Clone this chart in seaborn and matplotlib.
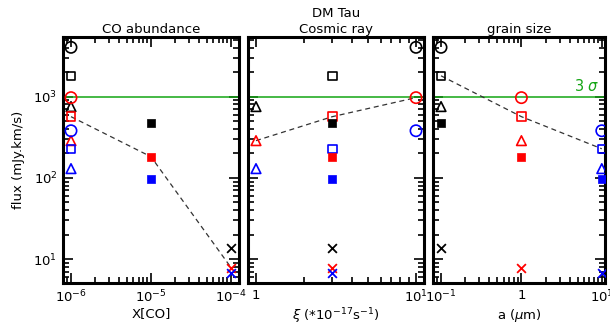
import numpy as np
import pandas as pd
import seaborn as sns
import matplotlib.pyplot as plt
from matplotlib.ticker import FuncFormatter, LogLocator

# model grid: CO abundance, cosmic ray rate, grain size -> integrated flux (mJy.km/s)
co_vals = [1e-6] * 9 + [1e-5] * 3 + [1e-4] * 3
xi_vals = [10, 10, 10, 3, 3, 3, 1, 1, 1, 3, 3, 3, 3, 3, 3]
a_vals = [0.1, 1, 10] * 5
flux_vals = [4030, 970, 380,
             1800, 566, 228,
             753, 287, 130,
             477, 182, 97,
             13.7, 7.9, 6.8]
three_sigma = 1000

grain_colors = {0.1: "black", 1: "red", 10: "blue"}

df = pd.DataFrame({"CO": co_vals, "xi": xi_vals, "a": a_vals, "flux": flux_vals})


def symbol(row):
    if row["CO"] == 1e-5:
        return "s", True
    if row["CO"] == 1e-4:
        return "x", True
    return {10: "o", 3: "s", 1: "^"}[row["xi"]], False


df["marker"] = [symbol(r)[0] for _, r in df.iterrows()]
df["filled"] = [symbol(r)[1] for _, r in df.iterrows()]

sns.set_style("ticks")
plt.rcParams["font.family"] = ["DejaVu Sans"]
plt.rcParams["mathtext.fontset"] = "dejavusans"
plt.rcParams["font.size"] = 9
for k in ["text.color", "axes.labelcolor", "xtick.color", "ytick.color"]:
    plt.rcParams[k] = "black"

fig = plt.figure(figsize=(6.1, 3.29), dpi=100)
W, H = 610, 329
boxes = [(63, 239), (248, 424), (433, 605)]
top, bottom = 37, 283
axes = [fig.add_axes([l / W, (H - bottom) / H, (r - l) / W, (bottom - top) / H]) for l, r in boxes]

xcols = ["CO", "xi", "a"]
xlims = [(10 ** -6.1, 10 ** -3.9), (10 ** -0.05, 10 ** 1.05), (10 ** -1.1, 10 ** 1.04)]
titles = ["CO abundance", "DM Tau\nCosmic ray", "grain size"]
xlabels = ["X[CO]", r"$\xi$ (*10$^{-17}$s$^{-1}$)", r"a ($\mu$m)"]
# dashed line: vary one parameter with the other two at reference values
line_sel = [(df["a"] == 1) & (df["xi"] == 3),
            (df["a"] == 1) & (df["CO"] == 1e-6),
            (df["xi"] == 3) & (df["CO"] == 1e-6)]


def fmt(v, pos):
    n = int(round(np.log10(v)))
    return "1" if n == 0 else r"10$^{%d}$" % n


for i, ax in enumerate(axes):
    ax.axhline(three_sigma, color="#14a514", lw=1.1, zorder=1)
    sub = df[line_sel[i]].sort_values(xcols[i])
    sns.lineplot(data=sub, x=xcols[i], y="flux", ax=ax, color="0.2", lw=0.9,
                 linestyle=(0, (4, 3)), sort=True, zorder=2)
    for (m, filled, a), g in df.groupby(["marker", "filled", "a"]):
        c = grain_colors[a]
        if m == "x":
            sns.scatterplot(data=g, x=xcols[i], y="flux", ax=ax, marker="x", color=c,
                            s=40, linewidth=1.3, zorder=3)
        elif filled:
            sns.scatterplot(data=g, x=xcols[i], y="flux", ax=ax, marker="s", color=c,
                            edgecolor=c, s=34, linewidth=0.5, zorder=3)
        else:
            size = {"o": 66, "s": 36, "^": 48}[m]
            sns.scatterplot(data=g, x=xcols[i], y="flux", ax=ax, marker=m, facecolors="none",
                            edgecolors=c, s=size, linewidth=1.2, zorder=3)
    ax.set_xscale("log")
    ax.set_yscale("log")
    ax.set_xlim(*xlims[i])
    ax.set_ylim(5.1, 5400)
    ax.xaxis.set_major_locator(LogLocator(base=10, numticks=10))
    ax.xaxis.set_minor_locator(LogLocator(base=10, subs=np.arange(2, 10), numticks=10))
    ax.xaxis.set_major_formatter(FuncFormatter(fmt))
    ax.tick_params(which="both", direction="in", top=True, right=True, width=1.2, color="black",
                   labelsize=9.5, pad=4)
    ax.tick_params(which="major", length=7)
    ax.tick_params(which="minor", length=4)
    for s in ax.spines.values():
        s.set_linewidth(2.2)
        s.set_color("black")
    ax.set_title(titles[i], fontsize=9.5, pad=3, linespacing=1.25)
    ax.set_xlabel(xlabels[i], fontsize=9.5, labelpad=1)
    ax.set_ylabel("")
    if i == 0:
        ax.yaxis.set_major_formatter(FuncFormatter(fmt))
        ax.set_ylabel("flux (mJy.km/s)", fontsize=9.5, labelpad=6)
    else:
        ax.set_yticklabels([])

axes[2].text(0.97, three_sigma * 1.08, r"3 $\sigma$", color="#14a514", fontsize=10.5,
             ha="right", va="bottom", transform=axes[2].get_yaxis_transform())

fig.savefig("out.png", dpi=100)
